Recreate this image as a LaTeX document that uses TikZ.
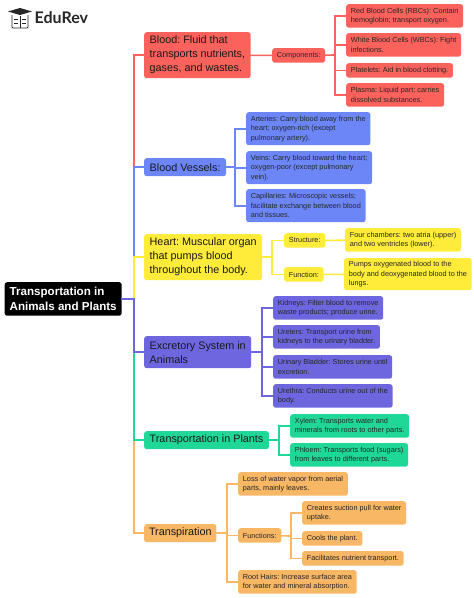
\documentclass[tikz,border=0pt]{standalone}
\usepackage{fontspec}
\setmainfont{Liberation Sans}
\newfontfamily\logofont{Lato}
\usepackage{tikz}
\definecolor{redfill}{HTML}{FB625C}
\definecolor{bluefill}{HTML}{6C86F8}
\definecolor{yellowfill}{HTML}{FFEB3A}
\definecolor{purplefill}{HTML}{6E66DE}
\definecolor{greenfill}{HTML}{1FD898}
\definecolor{orangefill}{HTML}{F8B765}
\begin{document}
\begin{tikzpicture}[x=1pt,y=-1pt,
 every node/.style={anchor=north west,rounded corners=2.5pt,align=left,inner ysep=0pt,execute at begin node=\frenchspacing},
 leaf/.style={font=\fontsize{7.3}{9.5}\selectfont,text=black!85,inner xsep=4.7pt,minimum height=23.5pt},
 leafone/.style={leaf,minimum height=14.5pt},
 topic/.style={font=\fontsize{10.8}{14}\selectfont,text=black!90,inner xsep=5.5pt},
 wire/.style={line width=1.6pt,line cap=rect}]
\useasboundingbox (0,0) rectangle (474,598);
% logo
\fill[black!85] (20,8) -- (32,11.5) -- (20,15) -- (8,11.5) -- cycle;
\draw[black!85,line width=0.9pt,rounded corners=1pt] (12,15) -- (12,28) -- (28,28) -- (28,15);
\draw[black!85,line width=0.7pt] (20,16) -- (20,28) (14,19) -- (18,19) (22,19) -- (26,19) (14,23) -- (18,23) (22,23) -- (26,23);
\node[font=\logofont\fontsize{16}{16}\selectfont\bfseries,text=black!85,inner xsep=0pt] (logo) at (34.5,11) {EduRev};
% first level
\node[fill=black,text=white,font=\fontsize{11.6}{15}\bfseries\selectfont,minimum height=33.5pt,inner xsep=5pt] (root) at (4.5,282) {Transportation in\\Animals and Plants};
\node[topic,fill=redfill,minimum height=46pt] (blood) at (144,32) {Blood: Fluid that\\transports nutrients,\\gases, and wastes.};
\node[topic,fill=bluefill,minimum height=18pt] (vessels) at (144,158) {Blood Vessels:};
\node[topic,fill=yellowfill,minimum height=46pt] (heart) at (144,234) {Heart: Muscular organ\\that pumps blood\\throughout the body.};
\node[topic,fill=purplefill,minimum height=32pt] (excretory) at (144,336) {Excretory System in\\Animals};
\node[topic,fill=greenfill,minimum height=18pt] (plants) at (144,431) {Transportation in Plants};
\node[topic,fill=orangefill,minimum height=18pt,inner xsep=4.8pt] (transpiration) at (144,524) {Transpiration};
% blood
\node[leafone,fill=redfill] (components) at (272,48) {Components:};
\node[leaf,fill=redfill] (rbc) at (346,4) {Red Blood Cells (RBCs): Contain\\hemoglobin; transport oxygen.};
\node[leaf,fill=redfill] (wbc) at (346,33) {White Blood Cells (WBCs): Fight\\infections.};
\node[leafone,fill=redfill] (platelets) at (346,63) {Platelets: Aid in blood clotting.};
\node[leaf,fill=redfill] (plasma) at (346,83) {Plasma: Liquid part; carries\\dissolved substances.};
% vessels
\node[leaf,fill=bluefill,minimum height=33pt] (arteries) at (246,112) {Arteries: Carry blood away from the\\heart; oxygen-rich (except\\pulmonary artery).};
\node[leaf,fill=bluefill,minimum height=33pt] (veins) at (246,151) {Veins: Carry blood toward the heart;\\oxygen-poor (except pulmonary\\vein).};
\node[leaf,fill=bluefill,minimum height=33pt] (capillaries) at (246,189) {Capillaries: Microscopic vessels;\\facilitate exchange between blood\\and tissues.};
% heart
\node[leafone,fill=yellowfill] (structure) at (284,233) {Structure:};
\node[leafone,fill=yellowfill] (function) at (284,267) {Function:};
\node[leaf,fill=yellowfill] (chambers) at (345,228) {Four chambers: two atria (upper)\\and two ventricles (lower).};
\node[leaf,fill=yellowfill,minimum height=32pt] (pumps) at (344,258) {Pumps oxygenated blood to the\\body and deoxygenated blood to the\\lungs.};
% excretory
\node[leaf,fill=purplefill] (kidneys) at (273,296) {Kidneys: Filter blood to remove\\waste products; produce urine.};
\node[leaf,fill=purplefill] (ureters) at (273,325) {Ureters: Transport urine from\\kidneys to the urinary bladder.};
\node[leaf,fill=purplefill] (bladder) at (273,355) {Urinary Bladder: Stores urine until\\excretion.};
\node[leaf,fill=purplefill] (urethra) at (273,384) {Urethra: Conducts urine out of the\\body.};
% plants
\node[leaf,fill=greenfill] (xylem) at (290,414) {Xylem: Transports water and\\minerals from roots to other parts.};
\node[leaf,fill=greenfill] (phloem) at (290,443) {Phloem: Transports food (sugars)\\from leaves to different parts.};
% transpiration
\node[leaf,fill=orangefill] (loss) at (238,472) {Loss of water vapor from aerial\\parts, mainly leaves.};
\node[leafone,fill=orangefill] (functions) at (238,528) {Functions:};
\node[leaf,fill=orangefill] (suction) at (302,501) {Creates suction pull for water\\uptake.};
\node[leafone,fill=orangefill] (cools) at (302,531) {Cools the plant.};
\node[leafone,fill=orangefill] (nutrient) at (302,551) {Facilitates nutrient transport.};
\node[leaf,fill=orangefill] (hairs) at (238,570) {Root Hairs: Increase surface area\\for water and mineral absorption.};
% joints
\coordinate (trunk) at (134,299);
\coordinate (bloodjoin) at (335,55);
\coordinate (vesselsjoin) at (235,167);
\coordinate (heartjoin) at (272,257);
\coordinate (excretoryjoin) at (262,352);
\coordinate (plantsjoin) at (279,440);
\coordinate (transpjoin) at (227,533);
\coordinate (functionsjoin) at (291,536);
% connectors
\draw[wire,redfill] (blood) -| (trunk |- vessels);
\draw[wire,bluefill] (vessels) -| (trunk |- heart);
\draw[wire,yellowfill] (heart) -| (trunk);
\draw[wire,orangefill] (transpiration) -| (trunk |- plants);
\draw[wire,greenfill] (plants) -| (trunk |- excretory);
\draw[wire,purplefill] (excretory) -| (trunk);
\draw[wire,purplefill] (root) -- (trunk);
\draw[wire,redfill] (blood) -- (components);
\draw[wire,redfill] (components) -- (bloodjoin);
\draw[wire,redfill] (bloodjoin) |- (rbc);
\draw[wire,redfill] (bloodjoin) |- (wbc);
\draw[wire,redfill] (bloodjoin) |- (platelets);
\draw[wire,redfill] (bloodjoin) |- (plasma);
\draw[wire,bluefill] (vessels) -- (vesselsjoin);
\draw[wire,bluefill] (vesselsjoin) |- (arteries);
\draw[wire,bluefill] (vesselsjoin) |- (veins);
\draw[wire,bluefill] (vesselsjoin) |- (capillaries);
\draw[wire,yellowfill] (heart) -- (heartjoin);
\draw[wire,yellowfill] (heartjoin) |- (structure);
\draw[wire,yellowfill] (heartjoin) |- (function);
\draw[wire,yellowfill] (structure) -- (chambers);
\draw[wire,yellowfill] (function) -- (pumps);
\draw[wire,purplefill] (excretory) -- (excretoryjoin);
\draw[wire,purplefill] (excretoryjoin) |- (kidneys);
\draw[wire,purplefill] (excretoryjoin) |- (ureters);
\draw[wire,purplefill] (excretoryjoin) |- (bladder);
\draw[wire,purplefill] (excretoryjoin) |- (urethra);
\draw[wire,greenfill] (plants) -- (plantsjoin);
\draw[wire,greenfill] (plantsjoin) |- (xylem);
\draw[wire,greenfill] (plantsjoin) |- (phloem);
\draw[wire,orangefill] (transpiration) -- (transpjoin);
\draw[wire,orangefill] (transpjoin) |- (loss);
\draw[wire,orangefill] (transpjoin) |- (functions);
\draw[wire,orangefill] (transpjoin) |- (hairs);
\draw[wire,orangefill] (functions) -- (functionsjoin);
\draw[wire,orangefill] (functionsjoin) |- (suction);
\draw[wire,orangefill] (functionsjoin) |- (cools);
\draw[wire,orangefill] (functionsjoin) |- (nutrient);
\end{tikzpicture}
\end{document}
